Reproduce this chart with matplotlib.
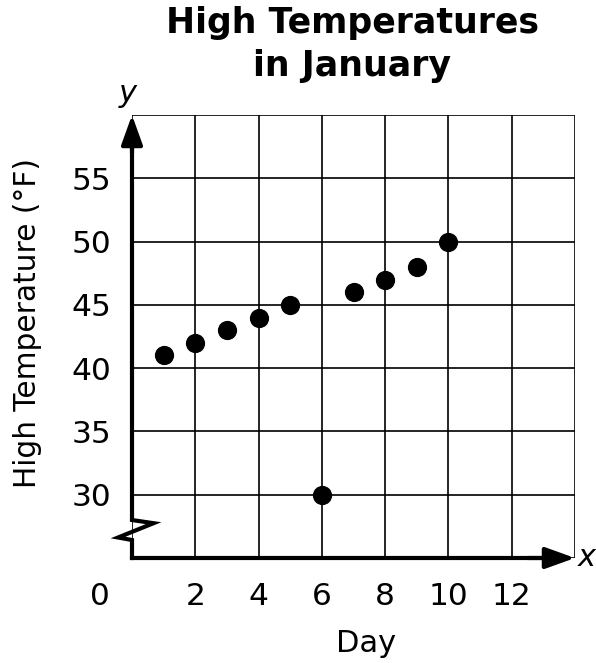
import matplotlib
matplotlib.use("Agg")
import matplotlib.pyplot as plt

days = [1, 2, 3, 4, 5, 6, 7, 8, 9, 10]
temps = [41, 42, 43, 44, 45, 30, 46, 47, 48, 50]
x_ticks = [0, 2, 4, 6, 8, 10, 12, 14]
x_labels = ['', '2', '4', '6', '8', '10', '12', '']
y_ticks = [25, 30, 35, 40, 45, 50, 55, 60]
y_labels = ['', '30', '35', '40', '45', '50', '55', '']

plt.rcParams['font.family'] = ['DejaVu Sans']
fig = plt.figure(figsize=(5.96, 6.63), dpi=100)
ax = fig.add_axes([132/596, 1-558/663, (575-132)/596, (558-115)/663])
ax.set_xlim(0, 14)
ax.set_ylim(25, 60)
for s in ax.spines.values():
    s.set_visible(False)
ax.set_xticks(x_ticks)
ax.set_xticklabels(x_labels, fontsize=22.5)
ax.set_yticks(y_ticks)
ax.set_yticklabels(y_labels, fontsize=22.5)
ax.tick_params(length=0)
ax.tick_params(axis='y', pad=15)
ax.tick_params(axis='x', pad=17)
ax.grid(True, color='black', lw=1.2)
ax.set_axisbelow(True)

ax.annotate('0', xy=(-1.0, 25), xytext=(0, -17), textcoords='offset points',
            fontsize=22.5, ha='center', va='top', annotation_clip=False)

# axes with break
ax.plot([0, 0, 0.68, -0.44, 0, 0], [59, 28.0, 27.75, 26.62, 26.42, 25],
        color='black', lw=3, clip_on=False, solid_joinstyle='miter', zorder=4)
ax.plot([0, 13.5], [25, 25], color='black', lw=3, clip_on=False, zorder=4)
arrow = dict(arrowstyle='-|>,head_length=0.5,head_width=0.18', mutation_scale=36,
             color='black', lw=3, shrinkA=0, shrinkB=0)
ax.annotate('', xy=(0, 60), xytext=(0, 57), arrowprops=arrow, annotation_clip=False, zorder=5)
ax.annotate('', xy=(14, 25), xytext=(12.5, 25), arrowprops=arrow, annotation_clip=False, zorder=5)

ax.text(-0.13, 61.7, 'y', fontsize=22, style='italic', ha='center', va='center')
ax.text(14.37, 25, 'x', fontsize=22, style='italic', ha='center', va='center')

ax.scatter(days, temps, s=165, color='black', zorder=6, clip_on=False)

fig.text(352/596, 1-6/663, 'High Temperatures\nin January', fontsize=25,
         fontweight='bold', ha='center', va='top', linespacing=1.32)
fig.text(366/596, 1-643/663, 'Day', fontsize=22, ha='center', va='center')
fig.text(28/596, 1-323/663, 'High Temperature (°F)', fontsize=21.3, ha='center',
         va='center', rotation=90)

fig.savefig('out.png', dpi=100)
